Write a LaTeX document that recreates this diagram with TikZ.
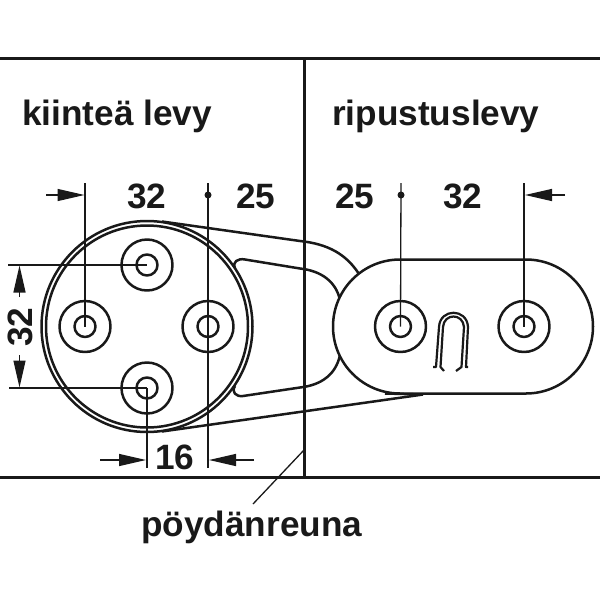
\documentclass[tikz,border=0pt]{standalone}
\usepackage{fontspec}
\setmainfont{Liberation Sans}
\usetikzlibrary{arrows.meta}
\tikzset{
  part/.style={line width=2.5pt,black!90,line join=round},
  frameline/.style={line width=3pt,black!90},
  dimline/.style={line width=1.3pt,black!90},
  dimarrow/.style={line width=1.3pt,black!90,-{Triangle[length=27pt,width=12pt]}},
  leader/.style={line width=1.3pt,black!90},
  heading/.style={font=\fontsize{35.2}{38}\bfseries\selectfont,text=black!90,inner sep=0pt,anchor=base west},
  dimtext/.style={font=\fontsize{35.2}{38}\bfseries\selectfont,text=black!90,inner sep=0pt,anchor=base},
  dotmark/.style={circle,fill=black!90,inner sep=0pt,minimum size=7pt}
}
\newcommand{\hole}[1]{%
  \draw[part,fill=white] (#1) circle[radius=25.5pt];
  \draw[part,fill=white] (#1) circle[radius=10.5pt];
}
\begin{document}
\begin{tikzpicture}[x=1pt,y=-1pt]
\useasboundingbox (0,0) rectangle (600,600);
% frame
\coordinate (fl) at (0,58); \coordinate (fr) at (600,58);
\coordinate (bl) at (0,477); \coordinate (br) at (600,477);
\coordinate (vt) at (304,58); \coordinate (vb) at (304,477);
\draw[frameline] (fl) -- (fr);
\draw[frameline] (bl) -- (br);
\draw[frameline] (vt) -- (vb);
% hole centres
\coordinate (ht) at (147,265);
\coordinate (hl) at (85,326.5);
\coordinate (hr) at (208,326.5);
\coordinate (hb) at (147,388);
\coordinate (ha) at (400.5,326.5);
\coordinate (hc) at (524,326.5);
\coordinate (disc) at (147,326.5);
% arm
\draw[part] (162,221.5) -- (300,241) .. controls (328,244) and (346,254) .. (359,274);
\draw[part] (162,431.5) -- (423,394.5);
% cut-out
\draw[part] (235,268) .. controls (232,262) and (238,258) .. (245,259.5) -- (300,268.5)
  .. controls (322,271) and (336,282) .. (340,300);
\draw[part] (235,386) .. controls (231,392) and (236,397) .. (243,396) -- (300,387.5)
  .. controls (322,385) and (336,374) .. (340,355);
% disc
\draw[part] (disc) circle[radius=105.5pt];
\draw[part] (disc) circle[radius=101pt];
% plate
\draw[part,fill=white] (400,259.5) -- (526,259.5) arc[start angle=-90,end angle=90,x radius=67pt,y radius=-67pt]
  -- (400,393.5) arc[start angle=90,end angle=270,x radius=67pt,y radius=-67pt] -- cycle;
\draw[part] (423,394.5) -- (385,393.5);
% holes
\hole{ht}\hole{hl}\hole{hr}\hole{hb}\hole{ha}\hole{hc}
% keyhole
\draw[line width=2.2pt,black!90,line join=round] (433,367) -- (436,367) -- (439,327) .. controls (440,308) and (467,308) .. (468,327) -- (466,367) -- (468,367);
\draw[line width=2.2pt,black!90,line join=round] (444,371) -- (440.5,367) -- (443,327) .. controls (444,313) and (463,313) .. (464,327) -- (461.5,367) -- (456,371);
% dimension lines
\coordinate (d1) at (85,183); \coordinate (d2) at (208,183);
\coordinate (d3) at (401,183); \coordinate (d4) at (524,183);
\coordinate (d5) at (147,468); \coordinate (d6) at (208,468);
\coordinate (h1) at (8,265); \coordinate (h2) at (9,388);
\draw[dimline] (d1) -- (hl);
\draw[dimline] (d2) -- (d6);
\draw[dimline] (d3) -- (ha);
\draw[dimline] (d4) -- (hc);
\draw[dimline] (d5) -- (hb);
\draw[dimline] (h1) -- (ht);
\draw[dimline] (h2) -- (hb);
% arrows
\coordinate (a1) at (46,195); \coordinate (a1t) at (84.5,195);
\coordinate (a2) at (565,195); \coordinate (a2t) at (525,195);
\coordinate (a3) at (100,460); \coordinate (a3t) at (146,460);
\coordinate (a4) at (254,460); \coordinate (a4t) at (209,460);
\coordinate (a5) at (19.5,297); \coordinate (a5t) at (19.5,265.5);
\coordinate (a6) at (19.5,355); \coordinate (a6t) at (19.5,387.5);
\draw[dimarrow] (a1) -- (a1t);
\draw[dimarrow] (a2) -- (a2t);
\draw[dimarrow] (a3) -- (a3t);
\draw[dimarrow] (a4) -- (a4t);
\draw[dimarrow] (a5) -- (a5t);
\draw[dimarrow] (a6) -- (a6t);
\node[dotmark] (dotl) at (208,195) {};
\node[dotmark] (dotr) at (401,195) {};
% leader
\coordinate (le) at (304,450); \coordinate (ls) at (253,504);
\draw[leader] (le) -- (ls);
% texts
\node[heading] (tl) at (22,125) {kiinteä levy};
\node[heading] (tr) at (332,125) {ripustuslevy};
\node[dimtext] (t1) at (147,208) {32};
\node[dimtext] (t2) at (256,208) {25};
\node[dimtext] (t3) at (355,208) {25};
\node[dimtext] (t4) at (463,208) {32};
\node[dimtext] (t5) at (175,469) {16};
\node[dimtext,rotate=90] (t6) at (32,327) {32};
\node[heading] (t7) at (141,536) {pöydänreuna};
\end{tikzpicture}
\end{document}
